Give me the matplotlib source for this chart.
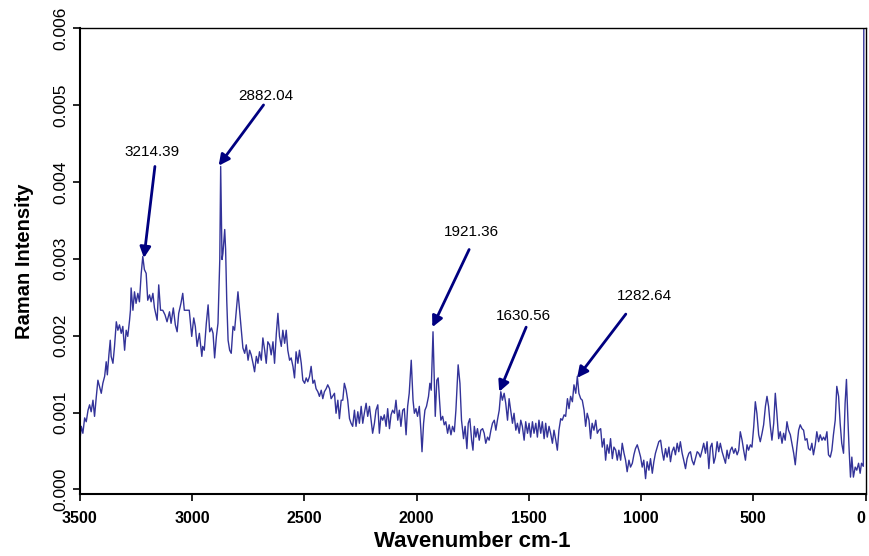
import matplotlib
matplotlib.use("Agg")
import matplotlib.pyplot as plt

plt.rcParams['font.family'] = ['Liberation Sans', 'DejaVu Sans']

# spectrum (wavenumber cm-1, intensity)
wavenumber = [
    3500, 3494, 3487, 3479, 3472, 3464, 3457, 3450, 3442, 3435, 3427, 3420, 3413, 3405, 3398, 3390,
    3383, 3378, 3371, 3365, 3361, 3353, 3346, 3338, 3331, 3324, 3316, 3309, 3301, 3294, 3287, 3279,
    3275, 3272, 3264, 3257, 3250, 3242, 3235, 3227, 3220, 3213, 3205, 3198, 3190, 3183, 3175, 3168,
    3156, 3149, 3141, 3131, 3121, 3112, 3101, 3094, 3084, 3075, 3067, 3060, 3050, 3042, 3035, 3023,
    3013, 3002, 2993, 2986, 2978, 2968, 2957, 2953, 2946,
    2937, 2929, 2922, 2914, 2907, 2900, 2892, 2885, 2877, 2873, 2867, 2863, 2855, 2851, 2846, 2840,
    2833, 2826, 2818, 2811, 2803, 2796, 2789, 2781, 2774, 2766, 2759, 2751, 2744, 2737, 2729, 2722,
    2714, 2707, 2700, 2692, 2685, 2677, 2670, 2663, 2655, 2648, 2640, 2633, 2625, 2618, 2611, 2603,
    2596, 2588, 2581, 2574, 2566, 2559, 2551, 2544, 2537, 2529, 2522, 2514, 2507, 2499, 2492, 2485,
    2477, 2470, 2462, 2455, 2448, 2440, 2433, 2425, 2418, 2411, 2403, 2396, 2388, 2381,
    2366, 2359, 2351, 2344, 2336, 2329, 2322, 2314, 2307, 2299, 2292, 2285, 2277, 2270, 2262, 2255,
    2247, 2240, 2233, 2225, 2218, 2210, 2203, 2196, 2188, 2181, 2173, 2166, 2159, 2151, 2144, 2136,
    2129, 2121, 2114, 2107, 2099, 2092, 2084, 2077, 2070, 2062, 2055, 2047, 2040, 2033, 2024, 2016,
    2010, 2003, 1996, 1988, 1981, 1976, 1969, 1963, 1956, 1947, 1941, 1935, 1927, 1922, 1917, 1910,
    1904, 1898, 1892, 1884, 1877, 1870, 1862, 1855, 1847, 1840, 1832, 1825, 1815, 1807, 1800, 1791,
    1784,
    1776, 1770, 1763, 1755, 1749, 1743, 1736, 1729, 1721, 1714, 1706, 1699, 1692, 1684, 1677, 1669,
    1662, 1654, 1647, 1640, 1632, 1625, 1618, 1610, 1603, 1595, 1588, 1581, 1573, 1566, 1558, 1551,
    1543, 1536, 1529, 1521, 1514, 1506, 1499, 1492, 1484, 1477, 1469, 1462, 1455, 1447, 1440, 1432,
    1425, 1418, 1410, 1403, 1395, 1388, 1380, 1373, 1366, 1358, 1351, 1343, 1336, 1328, 1321, 1314,
    1306, 1299, 1291, 1284, 1277, 1269, 1262, 1254, 1247, 1240, 1232, 1225, 1218, 1210,
    1202, 1195, 1188, 1180, 1173, 1165, 1158, 1151, 1143, 1136, 1128, 1121, 1113, 1106, 1099, 1091,
    1084, 1076, 1069, 1062, 1054, 1047, 1039, 1032, 1025, 1017, 1010, 1002, 995, 988, 980, 973,
    965, 958, 950, 943, 936, 928, 921, 913, 906, 899, 891, 884, 876, 869, 862, 854,
    847, 839, 832, 825, 817, 810, 802, 795, 787, 780, 773, 765, 758, 750, 743, 736,
    728, 721, 713, 706, 698, 691, 684, 676, 669, 661, 654, 647, 639, 632,
    624, 617, 610, 602, 595, 587, 580, 572, 565, 558, 550, 543, 535, 528, 521, 513,
    506, 498, 491, 484, 476, 469, 461, 454, 446, 439, 432, 424, 417, 409, 402, 395,
    387, 380, 372, 365, 358, 350, 343, 335, 328, 320, 313, 306, 298, 291, 283, 276,
    269, 261, 254, 246, 239, 232, 224, 217, 209, 202, 194, 187, 180, 172, 165, 157,
    150, 143, 135, 128, 120, 113, 106, 98, 91, 85, 79, 73, 67, 61, 54, 46,
    39, 31, 24, 18, 10, 6,
]

intensity = [
    0.00064, 0.00082, 0.00073, 0.00093, 0.00088, 0.00103, 0.00110, 0.00101, 0.00116, 0.00095, 0.00121, 0.00142, 0.00134, 0.00125, 0.00138, 0.00147,
    0.00166, 0.00149, 0.00175, 0.00194, 0.00173, 0.00164, 0.00186, 0.00218, 0.00207, 0.00214, 0.00203, 0.00212, 0.00181, 0.00207, 0.00199, 0.00220,
    0.00233, 0.00262, 0.00233, 0.00257, 0.00242, 0.00255, 0.00244, 0.00281, 0.00303, 0.00286, 0.00281, 0.00246, 0.00253, 0.00244, 0.00255, 0.00236,
    0.00220, 0.00266, 0.00233, 0.00233, 0.00227, 0.00218, 0.00231, 0.00216, 0.00236, 0.00214, 0.00205, 0.00229, 0.00242, 0.00255, 0.00233, 0.00233,
    0.00233, 0.00199, 0.00223, 0.00212, 0.00186, 0.00203, 0.00173, 0.00186, 0.00181,
    0.00216, 0.00240, 0.00205, 0.00210, 0.00203, 0.00171, 0.00199, 0.00216, 0.00299, 0.00420, 0.00299, 0.00307, 0.00338, 0.00312, 0.00246, 0.00194,
    0.00181, 0.00177, 0.00212, 0.00207, 0.00233, 0.00257, 0.00233, 0.00207, 0.00184, 0.00177, 0.00188, 0.00168, 0.00181, 0.00175, 0.00164, 0.00153,
    0.00173, 0.00164, 0.00179, 0.00168, 0.00197, 0.00181, 0.00164, 0.00192, 0.00188, 0.00175, 0.00192, 0.00164, 0.00203, 0.00229, 0.00199, 0.00186,
    0.00207, 0.00190, 0.00207, 0.00181, 0.00168, 0.00171, 0.00160, 0.00145, 0.00179, 0.00164, 0.00181, 0.00164, 0.00142, 0.00138, 0.00145, 0.00140,
    0.00147, 0.00160, 0.00138, 0.00142, 0.00131, 0.00127, 0.00121, 0.00129, 0.00118, 0.00127, 0.00131, 0.00136, 0.00131, 0.00118,
    0.00125, 0.00099, 0.00116, 0.00092, 0.00116, 0.00116, 0.00138, 0.00129, 0.00116, 0.00092, 0.00086, 0.00082, 0.00103, 0.00082, 0.00101, 0.00086,
    0.00108, 0.00086, 0.00099, 0.00112, 0.00095, 0.00108, 0.00090, 0.00073, 0.00086, 0.00103, 0.00110, 0.00073, 0.00095, 0.00090, 0.00097, 0.00082,
    0.00105, 0.00079, 0.00097, 0.00103, 0.00099, 0.00116, 0.00090, 0.00103, 0.00082, 0.00103, 0.00105, 0.00071, 0.00108, 0.00125, 0.00168, 0.00116,
    0.00099, 0.00105, 0.00095, 0.00108, 0.00077, 0.00049, 0.00086, 0.00103, 0.00108, 0.00121, 0.00138, 0.00129, 0.00205, 0.00150, 0.00095, 0.00142,
    0.00145, 0.00116, 0.00090, 0.00095, 0.00084, 0.00088, 0.00073, 0.00084, 0.00071, 0.00082, 0.00075, 0.00103, 0.00162, 0.00138, 0.00090, 0.00066,
    0.00082,
    0.00053, 0.00086, 0.00092, 0.00064, 0.00051, 0.00082, 0.00068, 0.00079, 0.00064, 0.00077, 0.00079, 0.00073, 0.00060, 0.00068, 0.00064, 0.00077,
    0.00086, 0.00090, 0.00077, 0.00090, 0.00103, 0.00127, 0.00116, 0.00125, 0.00112, 0.00090, 0.00118, 0.00103, 0.00086, 0.00099, 0.00077, 0.00086,
    0.00073, 0.00090, 0.00082, 0.00064, 0.00088, 0.00073, 0.00086, 0.00068, 0.00088, 0.00073, 0.00086, 0.00068, 0.00090, 0.00073, 0.00088, 0.00066,
    0.00086, 0.00068, 0.00082, 0.00073, 0.00060, 0.00077, 0.00064, 0.00051, 0.00077, 0.00092, 0.00090, 0.00097, 0.00095, 0.00118, 0.00105, 0.00121,
    0.00114, 0.00136, 0.00125, 0.00147, 0.00125, 0.00118, 0.00116, 0.00103, 0.00082, 0.00099, 0.00090, 0.00066, 0.00086, 0.00077,
    0.00090, 0.00073, 0.00077, 0.00079, 0.00055, 0.00066, 0.00038, 0.00058, 0.00047, 0.00066, 0.00040, 0.00055, 0.00051, 0.00038, 0.00051, 0.00038,
    0.00060, 0.00047, 0.00038, 0.00023, 0.00038, 0.00029, 0.00034, 0.00045, 0.00053, 0.00058, 0.00051, 0.00042, 0.00029, 0.00038, 0.00014, 0.00036,
    0.00025, 0.00040, 0.00021, 0.00036, 0.00047, 0.00055, 0.00062, 0.00064, 0.00049, 0.00038, 0.00053, 0.00042, 0.00055, 0.00036, 0.00049, 0.00055,
    0.00045, 0.00060, 0.00049, 0.00062, 0.00047, 0.00038, 0.00027, 0.00040, 0.00047, 0.00049, 0.00038, 0.00032, 0.00040, 0.00049, 0.00047, 0.00042,
    0.00051, 0.00060, 0.00047, 0.00062, 0.00027, 0.00055, 0.00060, 0.00034, 0.00042, 0.00062, 0.00049, 0.00060, 0.00049, 0.00042,
    0.00034, 0.00051, 0.00040, 0.00051, 0.00055, 0.00047, 0.00053, 0.00045, 0.00051, 0.00075, 0.00064, 0.00051, 0.00038, 0.00058, 0.00051, 0.00058,
    0.00055, 0.00082, 0.00114, 0.00099, 0.00071, 0.00062, 0.00073, 0.00084, 0.00108, 0.00121, 0.00108, 0.00082, 0.00064, 0.00086, 0.00125, 0.00099,
    0.00066, 0.00075, 0.00060, 0.00073, 0.00064, 0.00088, 0.00077, 0.00071, 0.00060, 0.00047, 0.00032, 0.00055, 0.00077, 0.00084, 0.00079, 0.00077,
    0.00064, 0.00066, 0.00053, 0.00051, 0.00060, 0.00045, 0.00058, 0.00075, 0.00062, 0.00071, 0.00064, 0.00068, 0.00064, 0.00075, 0.00045, 0.00042,
    0.00051, 0.00071, 0.00090, 0.00134, 0.00121, 0.00086, 0.00060, 0.00047, 0.00112, 0.00143, 0.00095, 0.00051, 0.00016, 0.00042, 0.00016, 0.00029,
    0.00025, 0.00034, 0.00021, 0.00034, 0.00030, 0.01000,
]

# peak labels: (text, text position, arrow tail, arrow tip)
peak_labels = ["3214.39", "2882.04", "1921.36", "1630.56", "1282.64"]
label_pos = [(3180, 0.00439), (2673, 0.00512), (1757, 0.00335), (1526, 0.00226), (987, 0.00251)]
arrow_tail = [(3166, 0.00420), (2682, 0.00500), (1766, 0.00312), (1512, 0.00211), (1068, 0.00228)]
arrow_tip = [(3215, 0.00301), (2882, 0.00421), (1930, 0.00211), (1632, 0.00127), (1285, 0.00145)]

x_ticks = [3500, 3000, 2500, 2000, 1500, 1000, 500, 0]
y_ticks = [0.000, 0.001, 0.002, 0.003, 0.004, 0.005, 0.006]

fig = plt.figure(figsize=(8.69, 5.56), dpi=100)
ax = fig.add_axes([0.092, 0.1115, 0.904, 0.838])

ax.plot(wavenumber, intensity, color="#333399", lw=1.0)

for i in range(len(peak_labels)):
    ax.annotate("", xy=arrow_tip[i], xytext=arrow_tail[i],
                arrowprops=dict(arrowstyle="-|>", color="#000080", lw=2,
                                mutation_scale=16, shrinkA=0, shrinkB=0))
    ax.text(label_pos[i][0], label_pos[i][1], peak_labels[i], ha="center", va="center",
            fontsize=11, color="black")

ax.set_xlim(3500, 0)
ax.set_ylim(-0.00006, 0.006)
ax.set_xticks(x_ticks)
ax.set_yticks(y_ticks)
ax.set_xticklabels([str(t) for t in x_ticks], fontweight="bold", fontsize=11.5)
ax.get_xticklabels()[-1].set_horizontalalignment("right")
ax.set_yticklabels(["%.3f" % t for t in y_ticks], rotation=90, va="center", fontsize=12.5)
ax.tick_params(axis="both", direction="out", length=5, width=1.2, colors="black")
ax.tick_params(axis="x", pad=7)
ax.tick_params(axis="y", pad=3)

for s in ["left", "bottom"]:
    ax.spines[s].set_linewidth(1.5)
ax.spines["top"].set_linewidth(1.0)
ax.spines["right"].set_linewidth(1.0)

ax.set_xlabel("Wavenumber cm-1", fontsize=16, fontweight="bold", labelpad=4)
ax.set_ylabel("Raman Intensity", fontsize=14.5, fontweight="bold", labelpad=14)

fig.savefig("out.png", dpi=100)
